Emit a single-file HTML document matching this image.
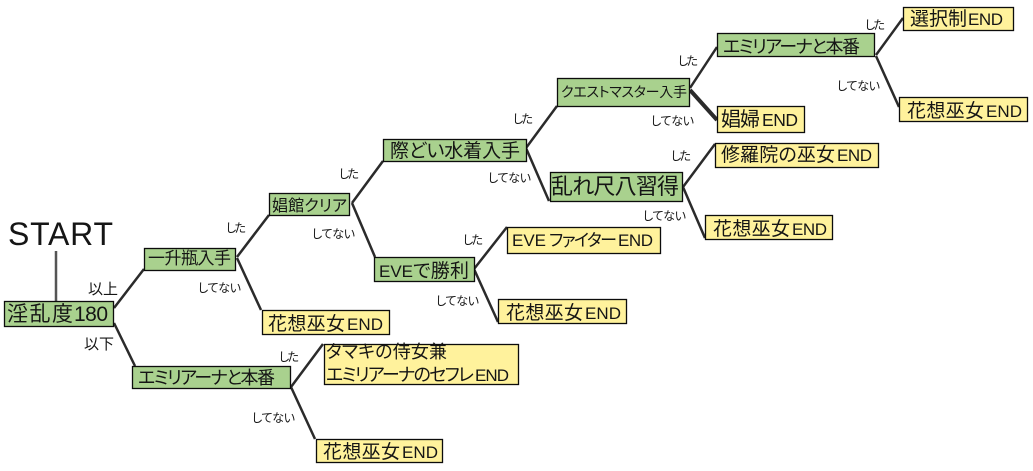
<!DOCTYPE html>
<html><head><meta charset="utf-8"><style>
html,body{margin:0;padding:0;background:#fff;width:1033px;height:471px;overflow:hidden}
svg{display:block}
text{font-family:"Liberation Sans","Noto Sans CJK JP",sans-serif;fill:#151515;font-feature-settings:"palt"}
.g{fill:#a9d18e;stroke:#0c0c0c;stroke-width:1.3}
.y{fill:#fff29c;stroke:#0c0c0c;stroke-width:1.3}
.l{stroke:#2b2b2b;stroke-width:2.5;fill:none}
.s{font-size:12px;fill:#2e2e2e}
</style></head><body>
<svg width="1033" height="471" viewBox="0 0 1033 471" xmlns="http://www.w3.org/2000/svg">
<g class="l">
<path d="M56 251V301" stroke="#555"/>
<path d="M114 308L144 269M114 323L135 366"/>
<path d="M237 257L269 215M237 258L261 310"/>
<path d="M352 203L383 161M352 203L375 257"/>
<path d="M474 269L507 227M474 269L498 322"/>
<path d="M526 148L557 106M526 148L549 201"/>
<path d="M690 88L717 47"/>
<path d="M690 90L717 120" stroke-width="4"/>
<path d="M876 55L903 18M876 56L899 107"/>
<path d="M683 187L715 144M683 187L705 238"/>
<path d="M291 387L323 344M291 387L315 439"/>
</g>
<rect class="g" x="4.5" y="301.5" width="109" height="25"/>
<rect class="g" x="144.5" y="248.5" width="91" height="22"/>
<rect class="g" x="269.5" y="193.5" width="80" height="22"/>
<rect class="g" x="383.5" y="139.5" width="143" height="22"/>
<rect class="g" x="550.5" y="172.5" width="132" height="29"/>
<rect class="g" x="374.5" y="257.5" width="100" height="24"/>
<rect class="g" x="557.5" y="78.5" width="132" height="28"/>
<rect class="g" x="717.5" y="33.5" width="157" height="23"/>
<rect class="g" x="132.5" y="366.5" width="158" height="22"/>
<rect class="y" x="262.5" y="310.5" width="127" height="24"/>
<rect class="y" x="324.5" y="344.5" width="194" height="40"/>
<rect class="y" x="316.5" y="439.5" width="126" height="23"/>
<rect class="y" x="507.5" y="227.5" width="153" height="26"/>
<rect class="y" x="498.5" y="299.5" width="128" height="24"/>
<rect class="y" x="903.5" y="7.5" width="110" height="23"/>
<rect class="y" x="717.5" y="106.5" width="87" height="26"/>
<rect class="y" x="899.5" y="97.5" width="128" height="24"/>
<rect class="y" x="715.5" y="143.5" width="163" height="24"/>
<rect class="y" x="705.5" y="215.5" width="127" height="24"/>

<text x="8" y="245" font-size="32" textLength="105" fill="#000">START</text>
<text x="7" y="321" font-size="21" textLength="66">淫乱度</text>
<text x="74" y="321" font-size="21" textLength="34">180</text>
<text x="148" y="264" font-size="17" textLength="83">一升瓶入手</text>
<text x="272" y="211" font-size="16" textLength="75">娼館クリア</text>
<text x="390" y="157" font-size="19" textLength="130">際どい水着入手</text>
<text x="551" y="194" font-size="22" textLength="128">乱れ尺八習得</text>
<text x="379" y="277" font-size="17" textLength="34">EVE</text>
<text x="413" y="277" font-size="19" textLength="56">で勝利</text>
<text x="561" y="97" font-size="14" textLength="126">クエストマスター入手</text>
<text x="723" y="53" font-size="18" textLength="137">エミリアーナと本番</text>
<text x="138" y="384" font-size="18" textLength="137">エミリアーナと本番</text>

<text x="268" y="330" font-size="19" textLength="77">花想巫女</text><text x="347" y="330" font-size="17" textLength="36">END</text>
<text x="326" y="358" font-size="18" textLength="121">タマキの侍女兼</text>
<text x="326" y="381" font-size="18" textLength="148">エミリアーナのセフレ</text><text x="475" y="381" font-size="17" textLength="34">END</text>
<text x="323" y="458" font-size="19" textLength="77">花想巫女</text><text x="402" y="458" font-size="17" textLength="36">END</text>
<text x="512" y="246" font-size="17" textLength="34">EVE</text><text x="549" y="246" font-size="17" textLength="68">ファイター</text><text x="618" y="246" font-size="17" textLength="35">END</text>
<text x="506" y="319" font-size="19" textLength="77">花想巫女</text><text x="585" y="319" font-size="17" textLength="36">END</text>
<text x="910" y="25" font-size="19" textLength="57">選択制</text><text x="968" y="25" font-size="17" textLength="35">END</text>
<text x="721" y="126" font-size="20" textLength="39">娼婦</text><text x="762" y="126" font-size="17.5" textLength="36">END</text>
<text x="907" y="117" font-size="19" textLength="77">花想巫女</text><text x="986" y="117" font-size="17" textLength="36">END</text>
<text x="721" y="161" font-size="19" textLength="114">修羅院の巫女</text><text x="837" y="161" font-size="17" textLength="35">END</text>
<text x="713" y="235" font-size="19" textLength="77">花想巫女</text><text x="792" y="235" font-size="17" textLength="35">END</text>

<text x="88" y="294" font-size="15" textLength="30">以上</text>
<text x="84" y="349" font-size="15" textLength="30">以下</text>
<g class="s">
<text x="226" y="232" textLength="20">した</text>
<text x="198" y="292" textLength="43">してない</text>
<text x="339" y="178" textLength="20">した</text>
<text x="312" y="238" textLength="43">してない</text>
<text x="279" y="361" textLength="20">した</text>
<text x="252" y="422" textLength="43">してない</text>
<text x="463" y="244" textLength="20">した</text>
<text x="436" y="305" textLength="43">してない</text>
<text x="513" y="123" textLength="20">した</text>
<text x="488" y="182" textLength="43">してない</text>
<text x="671" y="160" textLength="20">した</text>
<text x="643" y="220" textLength="43">してない</text>
<text x="678" y="65" textLength="20">した</text>
<text x="651" y="125" textLength="43">してない</text>
<text x="865" y="29" textLength="20">した</text>
<text x="837" y="90" textLength="43">してない</text>
</g>
</svg>
</body></html>
